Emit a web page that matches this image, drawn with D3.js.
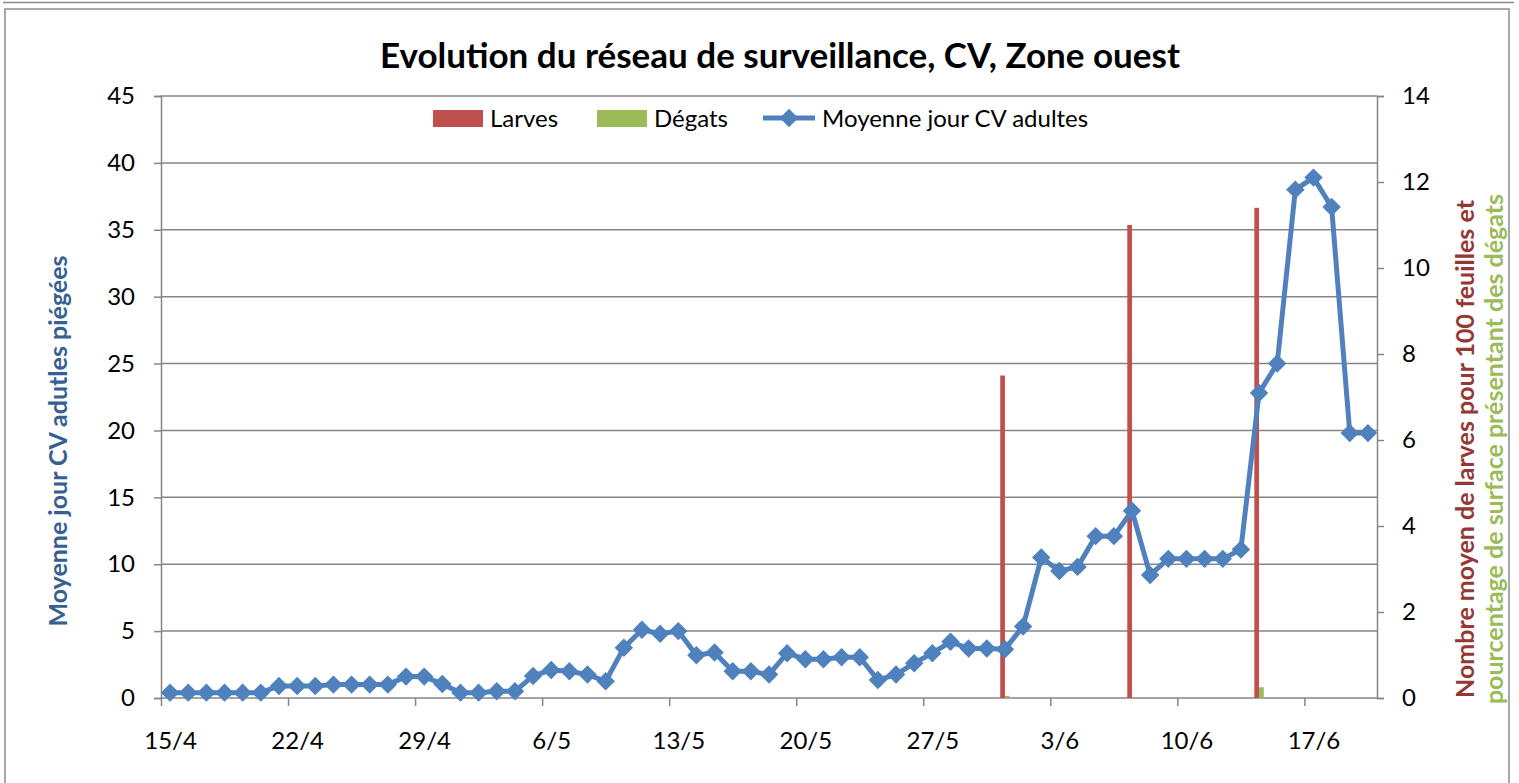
<!DOCTYPE html>
<html>
<head>
<meta charset="utf-8">
<script src="https://cdn.jsdelivr.net/npm/d3@7"></script>
<style>
  body { margin: 0; background: #fff; }
  svg { display: block; font-family: Lato, "Open Sans", sans-serif; }
</style>
</head>
<body>
<svg id="chart" width="1519" height="783"></svg>
<script>
// Daily mean of trapped adults, 15/4 -> 20/6
const adultes = [
  0.4, 0.4, 0.4, 0.4, 0.4, 0.4, 0.9, 0.9, 0.9, 1.0, 1.0, 1.0, 1.0, 1.6, 1.6, 1.05,
  0.4, 0.4, 0.5, 0.5, 1.65, 2.1, 2.0, 1.75, 1.25, 3.75, 5.1, 4.8, 5.0, 3.2, 3.4,
  2.0, 2.0, 1.75, 3.35, 2.9, 2.9, 3.05, 3.05, 1.35, 1.75, 2.6, 3.35, 4.2, 3.7, 3.7,
  3.65, 5.35, 10.5, 9.5, 9.8, 12.1, 12.1, 14.0, 9.2, 10.4, 10.4, 10.4, 10.4, 11.1,
  22.8, 25.0, 38.0, 38.9, 36.7, 19.8, 19.8
];
// Observation dates for larvae / damage (day, month)
const obsDates = [[31, 5], [7, 6], [14, 6]];
const larves = [7.5, 11, 11.4];
const degats = [0.05, 0, 0.25];

const leftTicks = [0, 5, 10, 15, 20, 25, 30, 35, 40, 45];
const rightTicks = [0, 2, 4, 6, 8, 10, 12, 14];

const year = 2013;
const startDay = new Date(year, 3, 15);
const endDay = new Date(year, 5, 21);
const days = d3.timeDay.range(startDay, endDay);
const fmt = d3.timeFormat("%-d/%-m");
const noon = d => d3.timeHour.offset(d, 12);

const C = { red: "#C0504D", green: "#9BBB59", blue: "#4F81BD", grid: "#868686" };

const svg = d3.select("#chart");

// frames ----------
svg.append("line").attr("x1", 3).attr("x2", 1514).attr("y1", 2.5).attr("y2", 2.5)
  .attr("stroke", "#8c8c8c").attr("stroke-width", 1.5);
svg.append("rect").attr("x", 5).attr("y", 9).attr("width", 1504).attr("height", 800)
  .attr("fill", "#fff").attr("stroke", "#8c8c8c").attr("stroke-width", 1.5);

const plot = { left: 161, right: 1377, top: 96, bottom: 698 };

const x = d3.scaleTime().domain([startDay, endDay]).range([plot.left, plot.right]);
const yL = d3.scaleLinear().domain([0, 45]).range([plot.bottom, plot.top]);
const yR = d3.scaleLinear().domain([0, 14]).range([plot.bottom, plot.top]);

// gridlines
svg.append("g")
  .selectAll("line")
  .data(leftTicks.filter(v => v > 0))
  .join("line")
  .attr("x1", plot.left).attr("x2", plot.right)
  .attr("y1", d => yL(d)).attr("y2", d => yL(d))
  .attr("stroke", C.grid).attr("stroke-width", 1.5);

// left axis
const gL = svg.append("g").attr("transform", `translate(${plot.left},0)`)
  .call(d3.axisLeft(yL).tickValues(leftTicks).tickSize(7).tickPadding(19));
// right axis
const gR = svg.append("g").attr("transform", `translate(${plot.right},0)`)
  .call(d3.axisRight(yR).tickValues(rightTicks).tickSize(7).tickPadding(18));
// bottom axis: ticks at midnight, labels centred in the day slot
const weekly = days.filter((d, i) => i % 7 === 0);
const gB = svg.append("g").attr("transform", `translate(0,${plot.bottom})`)
  .call(d3.axisBottom(x).tickValues(weekly).tickFormat(fmt).tickSize(8).tickPadding(26));
gB.selectAll(".tick text").attr("dx", (x(days[1]) - x(days[0])) / 2);
gB.select(".domain").attr("d", `M${plot.left},0H${plot.right}`);

[gL, gR, gB].forEach(g => {
  g.select(".domain").attr("stroke", C.grid).attr("stroke-width", 1.5);
  g.selectAll(".tick line").attr("stroke", C.grid).attr("stroke-width", 1.5);
  g.selectAll(".tick text").attr("font-size", 24).attr("fill", "#000")
    .attr("font-family", "Lato, sans-serif");
});

// bars ----------
const slot = x(days[1]) - x(days[0]);
const barW = slot * 0.26;
const obs = obsDates.map((d, i) => ({
  date: new Date(year, d[1] - 1, d[0]), larves: larves[i], degats: degats[i]
}));
svg.append("g").selectAll("rect").data(obs).join("rect")
  .attr("x", d => x(noon(d.date)) - barW)
  .attr("width", barW)
  .attr("y", d => yR(d.larves))
  .attr("height", d => yR(0) - yR(d.larves))
  .attr("fill", C.red);
svg.append("g").selectAll("rect").data(obs.filter(d => d.degats > 0)).join("rect")
  .attr("x", d => x(noon(d.date)))
  .attr("width", barW)
  .attr("y", d => yR(d.degats))
  .attr("height", d => yR(0) - yR(d.degats))
  .attr("fill", C.green);

// line ----------
const pts = adultes.map((v, i) => ({ date: days[i], v }));
svg.append("path").datum(pts)
  .attr("fill", "none").attr("stroke", C.blue).attr("stroke-width", 5)
  .attr("stroke-linejoin", "round")
  .attr("d", d3.line().x(d => x(noon(d.date))).y(d => yL(d.v)));
const diamond = d3.symbol(d3.symbolSquare, 170);
svg.append("g").selectAll("path").data(pts).join("path")
  .attr("d", diamond)
  .attr("transform", d => `translate(${x(noon(d.date))},${yL(d.v)}) rotate(45)`)
  .attr("fill", C.blue);

// title ----------
svg.append("text").attr("x", 780).attr("y", 68).attr("text-anchor", "middle")
  .attr("font-size", 35).attr("font-weight", "bold")
  .text("Evolution du réseau de surveillance, CV, Zone ouest");

// legend ----------
const leg = svg.append("g").attr("font-size", 24);
leg.append("rect").attr("x", 433).attr("y", 110).attr("width", 50).attr("height", 17).attr("fill", C.red);
leg.append("text").attr("x", 490).attr("y", 127).text("Larves");
leg.append("rect").attr("x", 597).attr("y", 110).attr("width", 50).attr("height", 17).attr("fill", C.green);
leg.append("text").attr("x", 654).attr("y", 127).text("Dégats");
leg.append("line").attr("x1", 763).attr("x2", 815).attr("y1", 118).attr("y2", 118)
  .attr("stroke", C.blue).attr("stroke-width", 5);
leg.append("path").attr("d", diamond).attr("transform", "translate(789,118) rotate(45)").attr("fill", C.blue);
leg.append("text").attr("x", 822).attr("y", 127).text("Moyenne jour CV adultes");

// axis titles ----------
svg.append("text").attr("transform", "translate(67,441) rotate(-90)")
  .attr("text-anchor", "middle").attr("font-size", 25).attr("font-weight", "bold")
  .attr("fill", "#376092").text("Moyenne jour CV adutles piégées");
svg.append("text").attr("transform", "translate(1474,449) rotate(-90)")
  .attr("text-anchor", "middle").attr("font-size", 25).attr("font-weight", "bold")
  .attr("fill", "#953735").text("Nombre moyen de larves pour  100 feuilles et");
svg.append("text").attr("transform", "translate(1503,449) rotate(-90)")
  .attr("text-anchor", "middle").attr("font-size", 25).attr("font-weight", "bold")
  .attr("fill", "#9BBB59").text("pourcentage de surface  présentant des dégats");
</script>
</body>
</html>
